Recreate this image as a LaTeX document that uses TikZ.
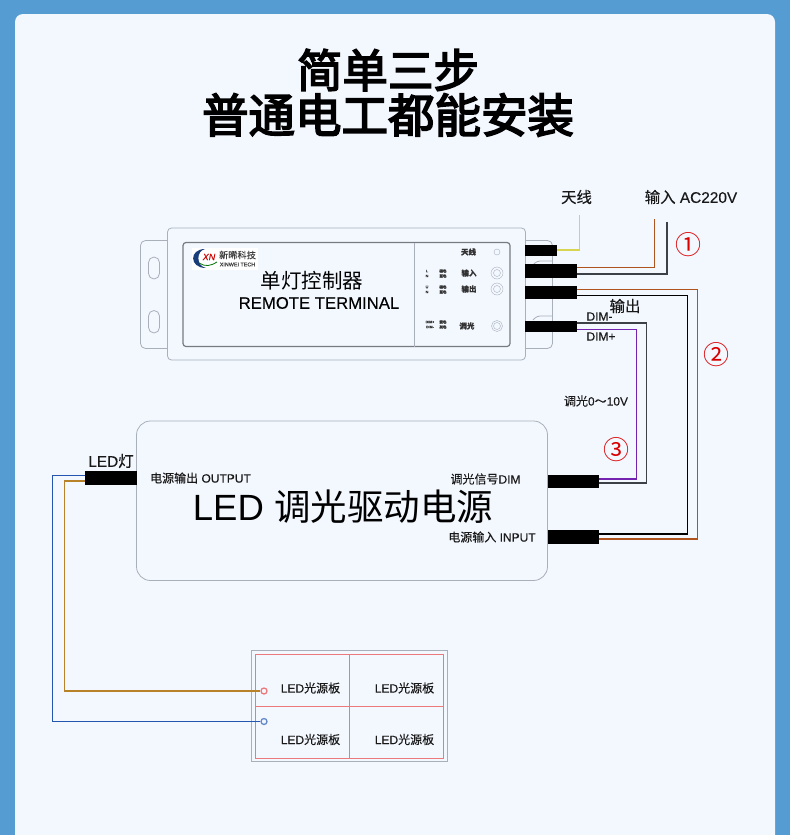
\documentclass[tikz,border=0pt]{standalone}
\usepackage{fontspec}
\setmainfont[FakeBold=0.25]{Liberation Sans}
\newfontfamily\plainfont{Liberation Sans}
\newfontfamily\cjk[FakeBold=0.25]{Noto Sans CJK SC}
\newfontfamily\cjkthin{Noto Sans CJK SC}
\newfontfamily\cjktitle[FakeBold=3.5]{Noto Sans CJK SC}
\usetikzlibrary{positioning}
\definecolor{bgblue}{HTML}{559CD3}
\definecolor{cardblue}{HTML}{F3F8FF}
\definecolor{casegray}{HTML}{A9B0BA}
\definecolor{wirebrown}{HTML}{B0541F}
\definecolor{wiretan}{HTML}{B88228}
\definecolor{wiredark}{HTML}{3C4047}
\definecolor{wirepurple}{HTML}{7422B0}
\definecolor{wireblue}{HTML}{2456B0}
\definecolor{wireyellow}{HTML}{D8D650}
\definecolor{gridred}{HTML}{EC7A7C}
\newcommand{\zh}[1]{{\cjk #1}}
\begin{document}
\begin{tikzpicture}[
    x=1pt, y=-1pt,
    case/.style={draw=casegray, line width=0.8pt},
    plug/.style={rectangle, fill=black, inner sep=0pt},
    lab/.style={inner sep=0pt, font=\fontsize{12}{14}\selectfont, text=black!90},
    midlab/.style={inner sep=0pt, font=\fontsize{15.4}{18}\selectfont, text=black!90},
    tiny/.style={inner sep=0pt, font=\fontsize{3.6}{4}\selectfont\bfseries, text=black!80},
    panellab/.style={inner sep=0pt, font=\fontsize{7.5}{9}\selectfont\bfseries, text=black!80},
    stepmark/.style={inner sep=0pt, text=red!85!black, font=\fontsize{26}{28}\selectfont\cjkthin},
    wire/.style={line width=1.1pt, line join=miter},
    port/.style={circle, draw=casegray, inner sep=0pt, minimum size=#1},
    term/.style={circle, draw=#1, line width=1.3pt, fill=cardblue, inner sep=0pt, minimum size=6pt}
]
    \useasboundingbox (0,0) rectangle (790,835);
    \fill[bgblue] (0,0) rectangle (790,835);
    \fill[cardblue, rounded corners=8pt] (15,14) rectangle (775,860);

    \node[inner sep=0pt, font=\fontsize{45.5}{46}\selectfont\cjktitle] (title) at (388,70) {简单三步};
    \node[inner sep=0pt, font=\fontsize{46.5}{47}\selectfont\cjktitle] (subtitle) at (388,115) {普通电工都能安装};

    \draw[case, rounded corners=5pt] (167,240.5) -- (140.5,240.5) -- (140.5,348.5) -- (167,348.5);
    \draw[case, rounded corners=5.5pt] (148.5,257) rectangle (159.5,279);
    \draw[case, rounded corners=5.5pt] (148.5,310.5) rectangle (159.5,333);
    \draw[case, rounded corners=5pt] (526,240.5) -- (552.5,240.5) -- (552.5,348.5) -- (526,348.5);
    \draw[case, rounded corners=3pt] (552.5,261) -- (537,261) -- (533,265);
    \draw[case, rounded corners=3pt] (552.5,316) -- (537,316) -- (533,320);
    \draw[case, fill=cardblue, rounded corners=4pt] (167.5,228) rectangle (525.5,360);
    \draw[draw=casegray!70!black, line width=1.2pt, rounded corners=3pt] (183,242.5) rectangle (510,346.5);
    \draw[case] (414.5,242.5) -- (414.5,346.5);

    \fill[white] (192,248) rectangle (258,270);
    \fill[wireblue!70!black] (205,249) .. controls (189,249) and (189,268) .. (206,268) .. controls (196,266) and (196,251) .. (205,249);
    \draw[green!45!black, line width=0.8pt] (199,263) .. controls (205,267) and (211,266) .. (217,262);
    \node[inner sep=0pt, text=red!80!black, font=\fontsize{9}{9}\selectfont\itshape] (logoxn) at (209,257) {XN};
    \node[inner sep=0pt, text=black!75, font=\fontsize{9.2}{9}\selectfont\cjk] (logozh) at (237.5,255) {新晞科技};
    \node[inner sep=0pt, text=black!75, font=\fontsize{5.4}{6}\selectfont] (logoen) at (237.5,264.5) {XINWEI TECH};

    \node[inner sep=0pt, font=\fontsize{20.5}{22}\selectfont\cjkthin] (ctrlzh) at (312,281) {单灯控制器};
    \node[inner sep=0pt, font=\fontsize{16.7}{18}\selectfont] (ctrlen) at (319,303) {REMOTE TERMINAL};

    \node[panellab] (pant) at (468.5,252) {\zh{天线}};
    \node[panellab] (pin) at (469,273) {\zh{输入}};
    \node[panellab] (pout) at (469,289) {\zh{输出}};
    \node[panellab] (pdim) at (467,326) {\zh{调光}};
    \node[port=6pt] (portant) at (497,252) {};
    \node[port=12pt] (portin) at (497,273) {};
    \node[port=7pt] at (portin) {};
    \node[port=12pt] (portout) at (497,289) {};
    \node[port=7pt] at (portout) {};
    \node[port=11pt] (portdim) at (497,326) {};
    \node[port=7pt] at (portdim) {};

    \node[tiny] (tl) at (427,271) {L};
    \node[tiny] (tn) at (427,276) {N};
    \node[tiny] (tu) at (427,287) {U};
    \node[tiny] (tm) at (427,292) {N};
    \node[tiny] (ta) at (443,271) {\zh{棕色}};
    \node[tiny] (tb) at (443,276) {\zh{蓝色}};
    \node[tiny] (tc) at (443,287) {\zh{棕色}};
    \node[tiny] (td) at (443,292) {\zh{蓝色}};
    \node[tiny] (te) at (430,322) {DIM+};
    \node[tiny] (tf) at (430,327) {DIM-};
    \node[tiny] (tg) at (443,322) {\zh{紫色}};
    \node[tiny] (th) at (443,327) {\zh{灰色}};

    \node[plug, minimum width=32pt, minimum height=11pt] (plugant) at (541,250.5) {};
    \node[plug, minimum width=52pt, minimum height=13.5pt] (plugin) at (551,270.75) {};
    \node[plug, minimum width=52pt, minimum height=13pt] (plugout) at (551,292) {};
    \node[plug, minimum width=52pt, minimum height=10.5pt] (plugdim) at (551,326.25) {};

    \draw[case, rounded corners=14pt] (136.5,421) rectangle (547.5,580.5);
    \node[plug, minimum width=51.5pt, minimum height=13pt] (drvdim) at (573.25,481.5) {};
    \node[plug, minimum width=51.5pt, minimum height=13.5pt] (drvin) at (573.25,536.75) {};
    \node[plug, minimum width=51.5pt, minimum height=13.5pt] (drvout) at (110.75,477.75) {};

    \node[inner sep=0pt, font=\fontsize{36.5}{38}\selectfont\plainfont] (drvname) at (343,507) {LED {\cjkthin 调光驱动电源}};
    \node[lab] (outlab) at (200.5,478) {\zh{电源输出} OUTPUT};
    \node[lab] (dimlab) at (485.5,479) {\zh{调光信号}DIM};
    \node[lab] (inlab) at (492,537) {\zh{电源输入} INPUT};
    \node[midlab] (ledlab) at (111,461) {LED\zh{灯}};

    \coordinate (antend) at (579.5,215);
    \coordinate (acbrown) at (654.5,219);
    \coordinate (acdark) at (667,222);
    \node[midlab] (antlab) at (576.5,197) {\zh{天线}};
    \node[midlab] (aclab) at (691,197) {\zh{输入} AC220V};
    \node[midlab] (outzh) at (625,306) {\zh{输出}};
    \node[lab] (dimneg) at (599.5,316.5) {DIM-};
    \node[lab] (dimpos) at (601,336.5) {DIM+};
    \node[lab] (rangelab) at (596,401) {\zh{调光}0\zh{～}10V};

    \draw[wire, wireyellow] ([yshift=0.5pt]plugant.east) -| (antend);
    \draw[wire, wirebrown] ([yshift=3pt]plugin.east) -| (acbrown);
    \draw[wire, wiredark] ([yshift=-3.25pt]plugin.east) -| (acdark);
    \draw[wire, wirebrown] ([yshift=2.5pt]plugout.east) -| (697.5,539) -- ([yshift=-2.25pt]drvin.east);
    \draw[wire, black] ([yshift=-3.5pt]plugout.east) -| (687.5,534) -- ([yshift=2.75pt]drvin.east);
    \draw[wire, wiredark] ([yshift=3.25pt]plugdim.east) -| (646.5,483) -- ([yshift=-1.5pt]drvdim.east);
    \draw[wire, wirepurple] ([yshift=-3.25pt]plugdim.east) -| (636.5,479) -- ([yshift=2.5pt]drvdim.east);

    \draw[case] (251.5,650.5) rectangle (447.5,761);
    \draw[gridred, line width=0.9pt] (255.5,654.5) rectangle (443,758.5);
    \draw[gridred, line width=0.9pt] (349,654.5) -- (349,758.5);
    \draw[gridred, line width=0.9pt] (255.5,706.5) -- (443,706.5);
    \node[lab] (board1) at (310.5,688) {LED\zh{光源板}};
    \node[lab] (board2) at (404.5,688) {LED\zh{光源板}};
    \node[lab] (board3) at (310.5,739.5) {LED\zh{光源板}};
    \node[lab] (board4) at (404.5,739.5) {LED\zh{光源板}};
    \node[term=gridred] (termred) at (264,691) {};
    \node[term=wireblue!70] (termblue) at (264,721.5) {};

    \draw[wire, wireblue] ([yshift=2.25pt]drvout.west) -| (52.5,721.5) -- (termblue);
    \draw[wire, wiretan] ([yshift=-3.25pt]drvout.west) -| (64.5,691) -- (termred);

    \node[stepmark] (mark1) at (688.5,245) {①};
    \node[stepmark] (mark2) at (716.5,355) {②};
    \node[stepmark] (mark3) at (616.5,450) {③};
\end{tikzpicture}
\end{document}
